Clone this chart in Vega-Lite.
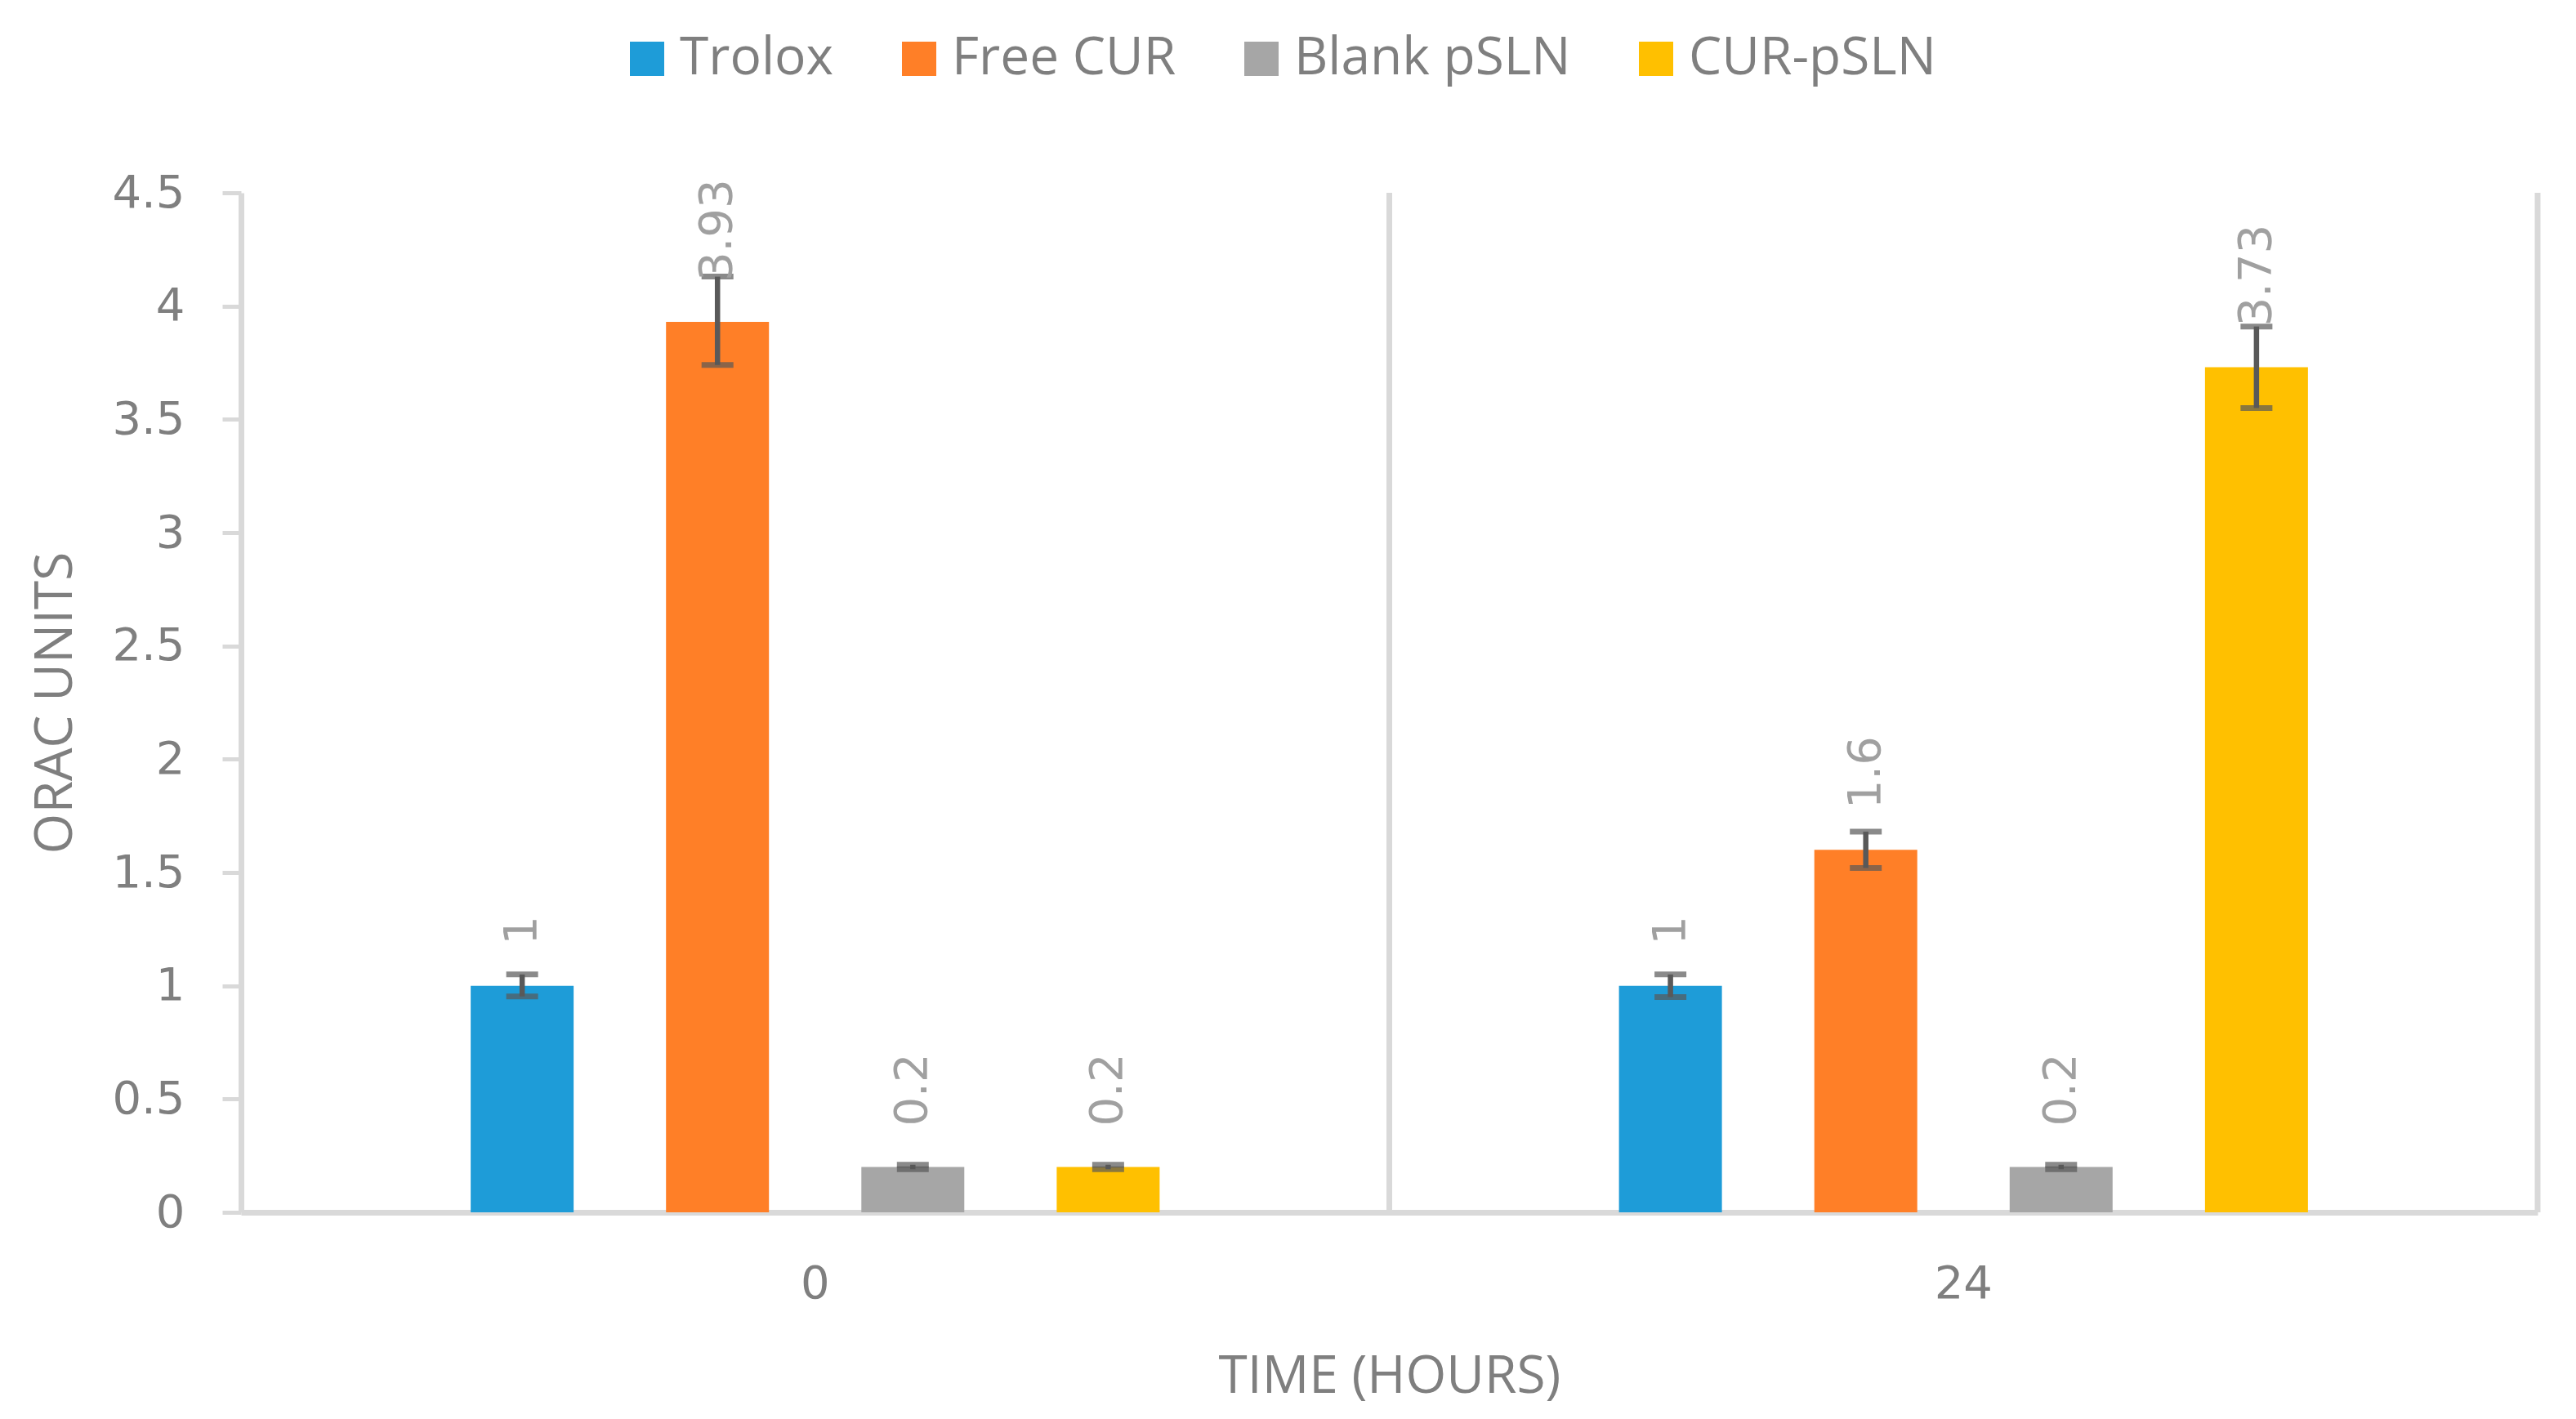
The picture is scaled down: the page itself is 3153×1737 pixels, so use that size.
{
  "$schema": "https://vega.github.io/schema/vega-lite/v6.json",
  "autosize": {"type": "none"},
  "padding": {"left": 295, "top": 236, "right": 47, "bottom": 253},
  "width": 2811,
  "height": 1248,
  "background": "white",
  "config": {"view": {"stroke": null}},
  "datasets": {
    "bars": [
      {"time": "0", "series": "Trolox", "value": 1, "lo": 0.953, "hi": 1.05},
      {"time": "0", "series": "Free CUR", "value": 3.93, "lo": 3.74, "hi": 4.13},
      {"time": "0", "series": "Blank pSLN", "value": 0.2, "lo": 0.19, "hi": 0.21},
      {"time": "0", "series": "CUR-pSLN", "value": 0.2, "lo": 0.19, "hi": 0.21},
      {"time": "24", "series": "Trolox", "value": 1, "lo": 0.95, "hi": 1.05},
      {"time": "24", "series": "Free CUR", "value": 1.6, "lo": 1.52, "hi": 1.68},
      {"time": "24", "series": "Blank pSLN", "value": 0.2, "lo": 0.19, "hi": 0.21},
      {"time": "24", "series": "CUR-pSLN", "value": 3.73, "lo": 3.55, "hi": 3.91}
    ],
    "cats": [{"time": "0"}, {"time": "24"}]
  },
  "encoding": {
    "x": {
      "field": "time", "type": "nominal", "sort": ["0", "24"],
      "scale": {"paddingInner": 0.0598, "paddingOuter": 0.0299},
      "axis": {
        "title": "TIME (HOURS)", "labelAngle": 0, "ticks": false, "tickSize": 0, "grid": false,
        "domainColor": "#d9d9d9", "domainWidth": 7,
        "labelFont": "DejaVu Sans", "labelFontSize": 56, "labelColor": "#7f7f7f", "labelPadding": 60,
        "titleFont": "Open Sans", "titleFontSize": 64, "titleFontWeight": "normal", "titleColor": "#7f7f7f", "titlePadding": 54
      }
    }
  },
  "layer": [
    {
      "data": {"name": "cats"},
      "mark": {"type": "rule", "color": "#d9d9d9", "strokeWidth": 7},
      "encoding": {"x": {"field": "time", "type": "nominal", "sort": ["0", "24"], "bandPosition": 1.0318}}
    },
    {
      "data": {"name": "bars"},
      "mark": {"type": "bar"},
      "encoding": {
        "xOffset": {"field": "series", "type": "nominal", "sort": ["Trolox", "Free CUR", "Blank pSLN", "CUR-pSLN"],
          "scale": {"paddingInner": 0.473, "paddingOuter": 1}},
        "y": {
          "field": "value", "type": "quantitative",
          "scale": {"domain": [0, 4.5], "nice": false},
          "axis": {
            "title": "ORAC UNITS", "values": [0, 0.5, 1, 1.5, 2, 2.5, 3, 3.5, 4, 4.5], "format": "~g",
            "grid": false, "domainColor": "#d9d9d9", "domainWidth": 7,
            "ticks": true, "tickColor": "#d9d9d9", "tickWidth": 5, "tickSize": 23,
            "labelFont": "DejaVu Sans", "labelFontSize": 56, "labelColor": "#7f7f7f", "labelPadding": 46,
            "titleFont": "Open Sans", "titleFontSize": 64, "titleFontWeight": "normal", "titleColor": "#7f7f7f", "titlePadding": 36
          }
        },
        "color": {
          "field": "series", "type": "nominal",
          "scale": {"domain": ["Trolox", "Free CUR", "Blank pSLN", "CUR-pSLN"], "range": ["#1E9CD8", "#FF7F27", "#A6A6A6", "#FFC000"]},
          "legend": {
            "title": null, "orient": "none", "direction": "horizontal", "legendX": 465, "legendY": -196,
            "symbolType": "square", "symbolSize": 1764, "symbolStrokeWidth": 0, "symbolOpacity": 1,
            "labelFont": "Open Sans", "labelFontSize": 64, "labelColor": "#7f7f7f", "labelOffset": 8, "labelLimit": 1000,
            "columnPadding": 72, "padding": 0
          }
        }
      }
    },
    {
      "data": {"name": "bars"},
      "mark": {"type": "rule", "color": "#595959", "strokeWidth": 6.5},
      "encoding": {
        "xOffset": {"field": "series", "type": "nominal", "sort": ["Trolox", "Free CUR", "Blank pSLN", "CUR-pSLN"]},
        "y": {"field": "lo", "type": "quantitative"},
        "y2": {"field": "hi"}
      }
    },
    {
      "data": {"name": "bars"},
      "mark": {"type": "tick", "color": "#595959", "thickness": 7, "size": 39, "orient": "horizontal"},
      "encoding": {
        "xOffset": {"field": "series", "type": "nominal", "sort": ["Trolox", "Free CUR", "Blank pSLN", "CUR-pSLN"]},
        "y": {"field": "lo", "type": "quantitative"}
      }
    },
    {
      "data": {"name": "bars"},
      "mark": {"type": "tick", "color": "#595959", "thickness": 7, "size": 39, "orient": "horizontal"},
      "encoding": {
        "xOffset": {"field": "series", "type": "nominal", "sort": ["Trolox", "Free CUR", "Blank pSLN", "CUR-pSLN"]},
        "y": {"field": "hi", "type": "quantitative"}
      }
    },
    {
      "data": {"name": "bars"},
      "mark": {"type": "text", "angle": 270, "align": "left", "baseline": "middle", "dx": 50, "font": "DejaVu Sans", "fontSize": 56, "color": "#a0a0a0"},
      "encoding": {
        "xOffset": {"field": "series", "type": "nominal", "sort": ["Trolox", "Free CUR", "Blank pSLN", "CUR-pSLN"]},
        "y": {"field": "value", "type": "quantitative"},
        "text": {"field": "value", "type": "quantitative", "format": "~g"}
      }
    }
  ]
}
